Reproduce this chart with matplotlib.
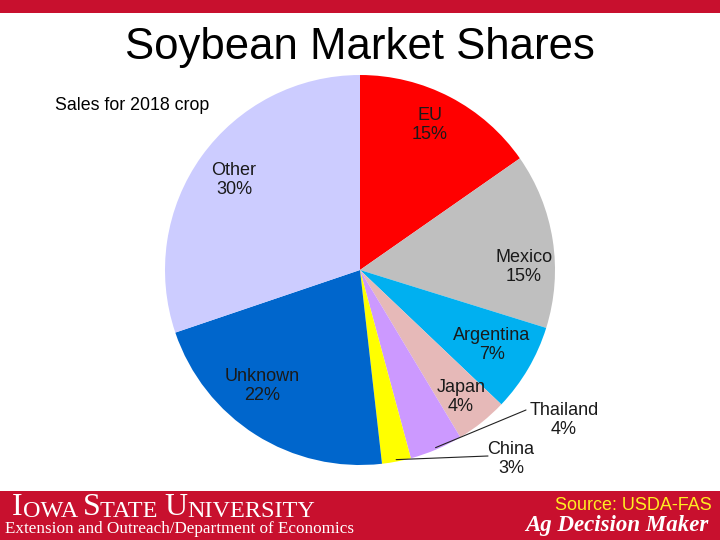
import numpy as np
import matplotlib
matplotlib.use("Agg")
import matplotlib.pyplot as plt

# market shares (slice sizes), plus the labels shown on it
countries = ['EU', 'Mexico', 'Argentina', 'Japan', 'Thailand', 'China', 'Unknown', 'Other']
shares = [15.3, 14.5, 7.3, 4.3, 4.4, 2.4, 21.6, 30.2]
pct_labels = ['15%', '15%', '7%', '4%', '4%', '3%', '22%', '30%']
colors = ['#FF0000', '#BFBFBF', '#00B0F0', '#E6B9B8', '#CC99FF', '#FFFF00', '#0066CC', '#CCCCFF']

W, H = 720, 540
RED = '#C8102E'


def px(x, y):
    # pixel coords (y down) -> axes data coords (y up)
    return x, H - y


fig = plt.figure(figsize=(7.2, 5.4), dpi=100)
ax = fig.add_axes([0, 0, 1, 1])

# pie
cx, cy = px(360, 270)
R = 195
wedges, _ = ax.pie(shares, colors=colors, startangle=90, counterclock=False,
                   center=(cx, cy), radius=R, wedgeprops=dict(linewidth=0),
                   frame=True)
ax.set_xlim(0, W)
ax.set_ylim(0, H)
ax.set_aspect('equal')
ax.axis('off')

# top and bottom bars
ax.add_patch(plt.Rectangle(px(0, 13), W, 13, color=RED, lw=0))
ax.add_patch(plt.Rectangle(px(0, 540), W, 49, color=RED, lw=0))

ax.text(*px(360, 47), 'Soybean Market Shares', ha='center', va='center',
        fontsize=31.5, family='Liberation Sans')
ax.text(*px(55, 106), 'Sales for 2018 crop', ha='left', va='center',
        fontsize=12.8, family='Liberation Sans')

label_pos = {
    'EU': (430, 125), 'Mexico': (524, 267), 'Argentina': (492, 345),
    'Japan': (461, 397), 'Thailand': (564, 420), 'China': (511, 459),
    'Unknown': (262, 386), 'Other': (234, 180),
}
leader_start = {'Thailand': (526, 410), 'China': (488, 456)}

for w, name, pct in zip(wedges, countries, pct_labels):
    ax.text(*px(*label_pos[name]), f'{name}\n{pct}', ha='center', va='center',
            fontsize=13, family='Liberation Sans', color='#1a1a1a', linespacing=1.15)
    if name in leader_start:
        mid = np.deg2rad((w.theta1 + w.theta2) / 2)
        tip = (cx + R * 0.99 * np.cos(mid), cy + R * 0.99 * np.sin(mid))
        ax.annotate('', xy=tip, xytext=px(*leader_start[name]),
                    arrowprops=dict(arrowstyle='-', color='#222222', lw=0.8,
                                    shrinkA=0, shrinkB=0))

# footer: small-caps university name built from pieces
big, small = 23, 17.5
pieces = [('I', big), ('OWA ', small), ('S', big), ('TATE ', small), ('U', big), ('NIVERSITY', small)]
prev = ax.text(*px(12, 515), pieces[0][0], ha='left', va='baseline', color='white',
               fontsize=pieces[0][1], family='Liberation Serif')
for txt, sz in pieces[1:]:
    prev = ax.annotate(txt, xy=(1, 0), xycoords=prev, ha='left', va='bottom',
                       color='white', fontsize=sz, family='Liberation Serif')

ax.text(*px(5, 533), 'Extension and Outreach/Department of Economics', ha='left',
        va='baseline', color='white', fontsize=12.3, family='Liberation Serif')
ax.text(*px(712, 506), 'Source: USDA-FAS', ha='right', va='center', color='#FFEE22',
        fontsize=13, family='Liberation Sans')
ax.text(*px(708, 531), 'Ag Decision Maker', ha='right', va='baseline', color='white',
        fontsize=16.5, family='Liberation Serif', fontweight='bold', fontstyle='italic')

fig.savefig('out.png', dpi=100)
